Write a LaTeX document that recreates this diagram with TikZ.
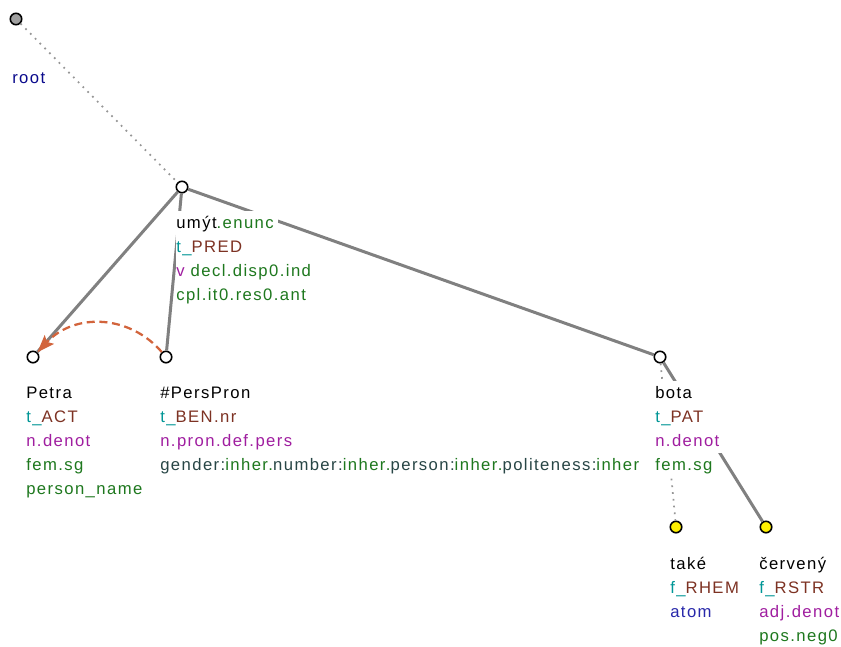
\documentclass[tikz,border=0pt]{standalone}
\usepackage{fontspec}
\setmainfont{Liberation Sans}[LetterSpace=8.5]
\usetikzlibrary{arrows.meta}
\definecolor{edgegray}{RGB}{128,128,128}
\definecolor{dotgray}{RGB}{150,150,150}
\definecolor{tcol}{RGB}{0,150,150}
\definecolor{fcol}{RGB}{125,50,35}
\definecolor{pcol}{RGB}{160,30,160}
\definecolor{gcol}{RGB}{30,120,30}
\definecolor{scol}{RGB}{40,70,70}
\definecolor{rcol}{RGB}{10,10,140}
\definecolor{acol}{RGB}{40,40,170}
\definecolor{corefcol}{RGB}{210,100,60}
\definecolor{rootfill}{RGB}{160,160,160}
\definecolor{yel}{RGB}{255,240,0}
\setlength{\fboxsep}{0pt}
\newcommand{\lineW}[1]{\colorbox{white}{\strut #1\hspace{3pt}}}
\newcommand{\lbl}[1]{\begin{tabular}[t]{@{}l@{}}#1\end{tabular}}
\newcommand{\Tc}[1]{\textcolor{tcol}{#1}}
\newcommand{\Fc}[1]{\textcolor{fcol}{#1}}
\newcommand{\Pc}[1]{\textcolor{pcol}{#1}}
\newcommand{\Gc}[1]{\textcolor{gcol}{#1}}
\newcommand{\Sc}[1]{\textcolor{scol}{#1}}
\begin{document}
\begin{tikzpicture}[x=0.75pt,y=-0.75pt,
  tnode/.style={circle,draw=black,line width=1.2pt,fill=white,minimum size=8.6pt,inner sep=0pt},
  rootnode/.style={tnode,fill=rootfill},
  fnode/.style={tnode,fill=yel},
  lab/.style={anchor=base west,inner sep=0pt,font=\fontsize{12.5}{18}\selectfont},
  edge/.style={draw=edgegray,line width=2.25pt},
  dotedge/.style={draw=dotgray,line width=1.3pt,dash pattern=on 1.3pt off 3.8pt},
  coref/.style={draw=corefcol,line width=1.7pt,dash pattern=on 6pt off 3.5pt,
     -{Stealth[length=13pt,width=9.5pt,inset=2.5pt]}}
]
\useasboundingbox (0,0) rectangle (841,646);
% tree nodes
\node[rootnode] (root) at (16,19) {};
\node[tnode] (umyt) at (182,187) {};
\node[tnode] (petra) at (33,357) {};
\node[tnode] (pers) at (166,357) {};
\node[tnode] (bota) at (660,357) {};
\node[fnode] (take) at (676,527) {};
\node[fnode] (cerv) at (766,527) {};
% edges
\draw[dotedge] (root) -- (umyt);
\draw[edge] (umyt) -- (petra);
\draw[edge] (umyt) -- (pers);
\draw[edge] (umyt) -- (bota);
\draw[dotedge] (bota) -- (take);
\draw[edge] (bota) -- (cerv);
\draw[coref] (pers) .. controls (130,315) and (75,312) .. (petra);
% labels
\node[lab] (rootL) at (12,83) {\lbl{\lineW{\textcolor{rcol}{root}}}};
\node[lab] (umytL) at (176,228) {\lbl{\lineW{umýt\Gc{.enunc}}\\ \lineW{\Tc{t\_}\Fc{PRED}}\\ \lineW{\Pc{v} \Gc{decl.disp0.ind}}\\ \lineW{\Gc{cpl.it0.res0.ant}}}};
\node[lab] (petraL) at (26,398) {\lbl{\lineW{Petra}\\ \lineW{\Tc{t\_}\Fc{ACT}}\\ \lineW{\Pc{n.denot}}\\ \lineW{\Gc{fem.sg}}\\ \lineW{\Gc{person\_name}}}};
\node[lab] (persL) at (160,398) {\lbl{\lineW{\#PersPron}\\ \lineW{\Tc{t\_}\Fc{BEN.nr}}\\ \lineW{\Pc{n.pron.def.pers}}\\ \lineW{\Sc{gender:}\Gc{inher.}\Sc{number:}\Gc{inher.}\Sc{person:}\Gc{inher.}\Sc{politeness:}\Gc{inher}}}};
\node[lab] (botaL) at (655,398) {\lbl{\lineW{bota}\\ \lineW{\Tc{t\_}\Fc{PAT}}\\ \lineW{\Pc{n.denot}}\\ \lineW{\Gc{fem.sg}}}};
\node[lab] (takeL) at (670,569) {\lbl{\lineW{také}\\ \lineW{\Tc{f\_}\Fc{RHEM}}\\ \lineW{\textcolor{acol}{atom}}}};
\node[lab] (cervL) at (759,569) {\lbl{\lineW{červený}\\ \lineW{\Tc{f\_}\Fc{RSTR}}\\ \lineW{\Pc{adj.denot}}\\ \lineW{\Gc{pos.neg0}}}};
\end{tikzpicture}
\end{document}
